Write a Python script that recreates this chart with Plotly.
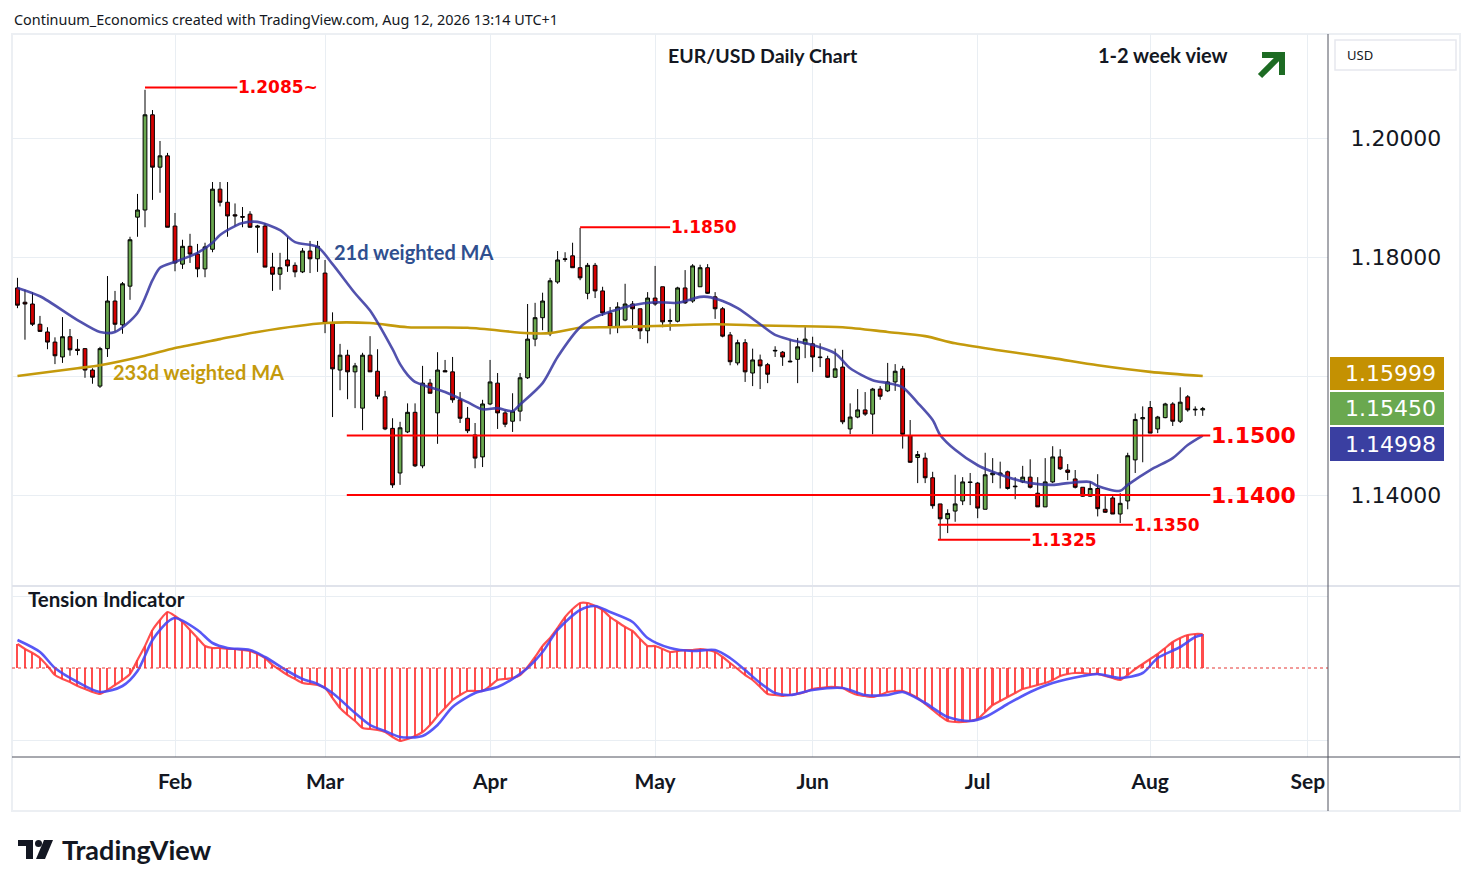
import pandas as pd
import plotly.graph_objects as go

# daily EUR/USD bars, Jan 2 - Aug 12 2026 (weekdays)
opens = [1.1748, 1.1724, 1.1721, 1.1687, 1.1674, 1.1657, 1.1632, 1.1666, 1.1645, 1.1646,
         1.1610, 1.1583, 1.1646, 1.1726, 1.1686, 1.1751, 1.1867, 1.1879, 1.2039, 1.1951,
         1.1970, 1.1852, 1.1788, 1.1818, 1.1805, 1.1780, 1.1813, 1.1914, 1.1892, 1.1871,
         1.1868, 1.1872, 1.1850, 1.1852, 1.1783, 1.1771, 1.1795, 1.1786, 1.1775, 1.1810,
         1.1797, 1.1773, 1.1689, 1.1610, 1.1635, 1.1607, 1.1546, 1.1635, 1.1608, 1.1565,
         1.1512, 1.1437, 1.1506, 1.1539, 1.1449, 1.1588, 1.1538, 1.1609, 1.1607, 1.1560,
         1.1529, 1.1501, 1.1464, 1.1553, 1.1588, 1.1538, 1.1524, 1.1541, 1.1597, 1.1662,
         1.1698, 1.1671, 1.1758, 1.1797, 1.1802, 1.1782, 1.1739, 1.1786, 1.1743, 1.1706,
         1.1682, 1.1694, 1.1721, 1.1713, 1.1676, 1.1731, 1.1750, 1.1692, 1.1692, 1.1748,
         1.1726, 1.1750, 1.1782, 1.1733, 1.1713, 1.1669, 1.1622, 1.1656, 1.1605, 1.1627,
         1.1619, 1.1642, 1.1640, 1.1625, 1.1628, 1.1654, 1.1654, 1.1632, 1.1629, 1.1598,
         1.1615, 1.1511, 1.1531, 1.1543, 1.1536, 1.1578, 1.1575, 1.1590, 1.1612, 1.1500,
         1.1463, 1.1462, 1.1429, 1.1385, 1.1360, 1.1373, 1.1390, 1.1422, 1.1420, 1.1376,
         1.1434, 1.1434, 1.1439, 1.1415, 1.1422, 1.1430, 1.1403, 1.1380, 1.1422, 1.1464,
         1.1442, 1.1427, 1.1413, 1.1398, 1.1411, 1.1376, 1.1395, 1.1368, 1.1390, 1.1459,
         1.1528, 1.1547, 1.1511, 1.1530, 1.1553, 1.1524, 1.1565, 1.1543, 1.1543]
highs = [1.1765, 1.1745, 1.1741, 1.1701, 1.1682, 1.1665, 1.1699, 1.1679, 1.1662, 1.1647,
         1.1613, 1.1649, 1.1768, 1.1743, 1.1758, 1.1834, 1.1906, 1.2081, 1.2047, 1.1995,
         1.1975, 1.1874, 1.1829, 1.1839, 1.1822, 1.1824, 1.1926, 1.1926, 1.1926, 1.1890,
         1.1884, 1.1877, 1.1854, 1.1857, 1.1807, 1.1807, 1.1834, 1.1791, 1.1815, 1.1827,
         1.1827, 1.1795, 1.1707, 1.1654, 1.1644, 1.1622, 1.1639, 1.1667, 1.1645, 1.1575,
         1.1529, 1.1523, 1.1554, 1.1554, 1.1617, 1.1595, 1.1640, 1.1627, 1.1632, 1.1573,
         1.1548, 1.1521, 1.1560, 1.1627, 1.1605, 1.1543, 1.1571, 1.1605, 1.1721, 1.1723,
         1.1740, 1.1765, 1.1810, 1.1808, 1.1824, 1.1849, 1.1790, 1.1790, 1.1750, 1.1716,
         1.1724, 1.1755, 1.1726, 1.1713, 1.1741, 1.1785, 1.1750, 1.1713, 1.1750, 1.1778,
         1.1788, 1.1787, 1.1788, 1.1741, 1.1716, 1.1674, 1.1661, 1.1662, 1.1646, 1.1636,
         1.1622, 1.1650, 1.1642, 1.1661, 1.1664, 1.1684, 1.1666, 1.1655, 1.1634, 1.1646,
         1.1644, 1.1554, 1.1578, 1.1573, 1.1580, 1.1583, 1.1622, 1.1620, 1.1617, 1.1526,
         1.1474, 1.1471, 1.1439, 1.1385, 1.1376, 1.1434, 1.1430, 1.1437, 1.1422, 1.1471,
         1.1462, 1.1456, 1.1441, 1.1430, 1.1449, 1.1460, 1.1430, 1.1462, 1.1482, 1.1477,
         1.1452, 1.1442, 1.1413, 1.1423, 1.1435, 1.1398, 1.1400, 1.1403, 1.1471, 1.1537,
         1.1549, 1.1558, 1.1533, 1.1555, 1.1556, 1.1581, 1.1568, 1.1549, 1.1548]
lows = [1.1714, 1.1661, 1.1684, 1.1674, 1.1645, 1.1620, 1.1622, 1.1634, 1.1635, 1.1597,
        1.1587, 1.1580, 1.1632, 1.1675, 1.1671, 1.1728, 1.1834, 1.1850, 1.1896, 1.1908,
        1.1850, 1.1776, 1.1780, 1.1790, 1.1766, 1.1766, 1.1808, 1.1885, 1.1834, 1.1852,
        1.1850, 1.1849, 1.1807, 1.1783, 1.1743, 1.1745, 1.1775, 1.1766, 1.1773, 1.1773,
        1.1775, 1.1672, 1.1531, 1.1576, 1.1561, 1.1546, 1.1509, 1.1607, 1.1561, 1.1509,
        1.1412, 1.1417, 1.1504, 1.1447, 1.1445, 1.1571, 1.1486, 1.1607, 1.1555, 1.1521,
        1.1504, 1.1445, 1.1447, 1.1551, 1.1511, 1.1514, 1.1506, 1.1524, 1.1595, 1.1650,
        1.1677, 1.1667, 1.1755, 1.1792, 1.1782, 1.1761, 1.1729, 1.1731, 1.1701, 1.1670,
        1.1672, 1.1692, 1.1679, 1.1662, 1.1655, 1.1718, 1.1682, 1.1676, 1.1690, 1.1721,
        1.1723, 1.1750, 1.1738, 1.1696, 1.1665, 1.1618, 1.1618, 1.1590, 1.1583, 1.1578,
        1.1588, 1.1632, 1.1617, 1.1623, 1.1588, 1.1630, 1.1607, 1.1615, 1.1597, 1.1597,
        1.1519, 1.1502, 1.1529, 1.1533, 1.1502, 1.1560, 1.1573, 1.1575, 1.1478, 1.1454,
        1.1420, 1.1420, 1.1377, 1.1326, 1.1336, 1.1355, 1.1383, 1.1383, 1.1361, 1.1376,
        1.1420, 1.1411, 1.1409, 1.1393, 1.1420, 1.1411, 1.1380, 1.1380, 1.1420, 1.1442,
        1.1425, 1.1411, 1.1397, 1.1397, 1.1364, 1.1370, 1.1368, 1.1353, 1.1376, 1.1437,
        1.1455, 1.1504, 1.1504, 1.1529, 1.1516, 1.1521, 1.1540, 1.1533, 1.1533]
closes = [1.1719, 1.1721, 1.1687, 1.1675, 1.1657, 1.1634, 1.1666, 1.1644, 1.1643, 1.1610,
          1.1598, 1.1646, 1.1726, 1.1687, 1.1755, 1.1829, 1.1879, 1.2039, 1.1951, 1.1970,
          1.1850, 1.1790, 1.1818, 1.1805, 1.1780, 1.1817, 1.1914, 1.1892, 1.1869, 1.1869,
          1.1867, 1.1850, 1.1852, 1.1783, 1.1771, 1.1782, 1.1785, 1.1775, 1.1810, 1.1797,
          1.1818, 1.1689, 1.1612, 1.1635, 1.1607, 1.1617, 1.1635, 1.1607, 1.1566, 1.1511,
          1.1417, 1.1513, 1.1539, 1.1449, 1.1588, 1.1571, 1.1610, 1.1607, 1.1560, 1.1529,
          1.1508, 1.1462, 1.1553, 1.1590, 1.1538, 1.1519, 1.1541, 1.1597, 1.1662, 1.1698,
          1.1726, 1.1760, 1.1795, 1.1796, 1.1782, 1.1765, 1.1786, 1.1743, 1.1706, 1.1682,
          1.1716, 1.1721, 1.1713, 1.1676, 1.1731, 1.1721, 1.1691, 1.1693, 1.1748, 1.1723,
          1.1785, 1.1782, 1.1739, 1.1713, 1.1667, 1.1624, 1.1656, 1.1607, 1.1627, 1.1617,
          1.1603, 1.1643, 1.1632, 1.1624, 1.1649, 1.1662, 1.1632, 1.1631, 1.1598, 1.1612,
          1.1523, 1.1531, 1.1543, 1.1536, 1.1578, 1.1566, 1.1590, 1.1608, 1.1502, 1.1455,
          1.1468, 1.1429, 1.1382, 1.1360, 1.1369, 1.1385, 1.1422, 1.1421, 1.1378, 1.1434,
          1.1437, 1.1437, 1.1411, 1.1414, 1.1430, 1.1413, 1.1380, 1.1422, 1.1464, 1.1444,
          1.1438, 1.1413, 1.1398, 1.1411, 1.1377, 1.1371, 1.1368, 1.1386, 1.1466, 1.1527,
          1.1530, 1.1504, 1.1531, 1.1553, 1.1524, 1.1556, 1.1543, 1.1544, 1.1545]

# moving averages, read at selected bars (bar number from Jan 2)
ma21_bar = [0, 3, 8, 11, 13, 16, 18, 19, 21, 24, 26, 27, 29, 30, 32, 35, 37, 40, 42, 45,
            47, 50, 51, 52, 53, 55, 57, 60, 62, 64, 66, 67, 70, 72, 75, 77, 79, 82, 85, 88,
            91, 92, 94, 96, 99, 101, 103, 106, 109, 111, 114, 116, 118, 120, 122, 123, 125,
            128, 130, 132, 135, 138, 140, 143, 144, 147, 148, 151, 154, 156, 158]
ma21_val = [1.1748, 1.1734, 1.1694, 1.1674, 1.1674, 1.1706, 1.1761, 1.1782, 1.1792, 1.1807,
            1.1824, 1.1837, 1.1852, 1.1857, 1.1859, 1.1845, 1.1825, 1.1817, 1.1788, 1.1739,
            1.1710, 1.1645, 1.1620, 1.1602, 1.1590, 1.1581, 1.1573, 1.1556, 1.1544, 1.1546,
            1.1541, 1.1552, 1.1588, 1.1632, 1.1682, 1.1699, 1.1708, 1.1719, 1.1724, 1.1723,
            1.1733, 1.1733, 1.1726, 1.1714, 1.1687, 1.1669, 1.1661, 1.1652, 1.1638, 1.1613,
            1.1593, 1.1588, 1.1581, 1.1555, 1.1526, 1.1501, 1.1476, 1.1450, 1.1439, 1.1430,
            1.1420, 1.1417, 1.1420, 1.1422, 1.1415, 1.1407, 1.1417, 1.1442, 1.1462, 1.1484,
            1.14998]
ma233_bar = [0, 8, 11, 17, 21, 27, 32, 41, 47, 52, 60, 68, 71, 75, 79, 85, 93, 99, 103,
             110, 116, 121, 125, 131, 138, 144, 151, 158]
ma233_val = [1.1600, 1.1613, 1.1618, 1.1634, 1.1647, 1.1662, 1.1674, 1.1689, 1.1689, 1.1682,
             1.1681, 1.1672, 1.1672, 1.1681, 1.1682, 1.1684, 1.1687, 1.1685, 1.1684, 1.1682,
             1.1674, 1.1667, 1.1655, 1.1643, 1.1630, 1.1618, 1.1607, 1.15999]

# tension indicator: fast line (one value per bar) and slow line
tension_fast = [24, 19, 15, 10, 2, -7, -11, -14, -18, -21,
                -24, -26, -22, -17, -12, -6, 8, 22, 38, 48,
                56, 52, 46, 38, 30, 22, 20, 20, 19, 19,
                18, 17, 14, 10, 3, -2, -7, -11, -15, -16,
                -17, -20, -30, -40, -47, -53, -60, -61, -62, -64,
                -69, -73, -71, -68, -64, -57, -48, -40, -32, -27,
                -23, -23, -23, -18, -12, -11, -10, -7, 1, 11,
                22, 30, 40, 51, 59, 65, 65, 62, 58, 51,
                46, 41, 37, 29, 22, 22, 19, 16, 17, 18,
                18, 19, 18, 16, 11, 5, -1, -7, -12, -19,
                -26, -27, -28, -27, -26, -24, -21, -20, -19, -19,
                -20, -24, -27, -28, -29, -27, -24, -23, -23, -26,
                -30, -36, -42, -48, -53, -54, -54, -53, -51, -44,
                -37, -33, -29, -25, -21, -19, -17, -15, -12, -8,
                -6, -5, -5, -6, -6, -8, -10, -12, -7, -1,
                4, 9, 14, 20, 26, 30, 33, 34, 34]
tension_slow_bar = [0, 3, 5, 8, 11, 14, 16, 18, 20, 21, 24, 26, 28, 31, 33, 36, 38, 40, 42,
                    45, 47, 49, 51, 54, 56, 58, 61, 64, 66, 68, 70, 72, 75, 77, 79, 82, 84,
                    87, 90, 93, 95, 97, 99, 101, 103, 106, 110, 113, 116, 118, 121, 124,
                    127, 129, 132, 135, 138, 142, 144, 147, 150, 152, 155, 157, 158]
tension_slow = [28, 16, 0, -14, -24, -18, -3, 28, 46, 50, 38, 25, 20, 18, 11, -3, -11, -16,
                -25, -45, -57, -63, -69, -68, -57, -39, -25, -19, -11, 0, 16, 38, 58, 62,
                56, 46, 30, 20, 17, 18, 10, -2, -15, -25, -27, -22, -20, -27, -27, -24,
                -35, -49, -53, -49, -36, -24, -15, -8, -6, -10, -5, 10, 21, 31, 33]

level_vals = [1.2085, 1.1850, 1.1500, 1.1400, 1.1350, 1.1325]
level_text = ["1.2085~", "1.1850", "1.1500", "1.1400", "1.1350", "1.1325"]
level_from = [17, 75, 43.9, 43.9, 122.7, 122.7]
level_to = [29.3, 87, 159, 159, 148.7, 135]
level_size = [17, 17, 22, 22, 17, 17]

month_names = ["Feb", "Mar", "Apr", "May", "Jun", "Jul", "Aug", "Sep"]

n = len(closes)
bars = list(range(n))
days = pd.bdate_range("2026-01-02", "2026-09-30")
month_idx = [int(days.get_indexer([days[days.month == m][0]])[0]) for m in range(2, 10)]

# page is offset by the browser's 8px body margin
OFF = 8
W, H = 1474 - 2 * OFF, 887 - 2 * OFF
L, R, T, B = 12, 1328, 34, 757   # plot area in screenshot pixels


def px(X):
    return (X - L) / (R - L)


def py(Y):
    return (B - Y) / (B - T)


split = py(586)
grid = "#e9eef3"
ink = "#131722"

fig = go.Figure()

fig.add_trace(go.Candlestick(
    x=bars, open=opens, high=highs, low=lows, close=closes,
    increasing=dict(fillcolor="#6aa84f", line=dict(color="#000000", width=1)),
    decreasing=dict(fillcolor="#d50000", line=dict(color="#000000", width=1)),
    whiskerwidth=0, hoverinfo="skip", xaxis="x", yaxis="y"))

fig.add_trace(go.Scatter(
    x=ma233_bar, y=ma233_val, mode="lines",
    line=dict(color="#c49a0c", width=2.6, shape="spline", smoothing=0.8),
    hoverinfo="skip", xaxis="x", yaxis="y"))
fig.add_trace(go.Scatter(
    x=ma21_bar, y=ma21_val, mode="lines",
    line=dict(color="rgba(52,52,160,0.85)", width=2.6, shape="spline", smoothing=0.8),
    hoverinfo="skip", xaxis="x", yaxis="y"))

# tension indicator panel
fig.add_trace(go.Bar(
    x=bars, y=tension_fast, width=0.22, marker=dict(color="#ff4d4d", line=dict(width=0)),
    hoverinfo="skip", xaxis="x2", yaxis="y2"))
fig.add_trace(go.Scatter(
    x=bars, y=tension_fast, mode="lines",
    line=dict(color="rgba(255,60,60,0.9)", width=2.2, shape="spline", smoothing=0.6),
    hoverinfo="skip", xaxis="x2", yaxis="y2"))
fig.add_trace(go.Scatter(
    x=tension_slow_bar, y=tension_slow, mode="lines",
    line=dict(color="rgba(70,70,245,0.9)", width=2.6, shape="spline", smoothing=0.8),
    hoverinfo="skip", xaxis="x2", yaxis="y2"))

shapes = []
annotations = []

# level lines and labels
for v, t, a, b, s in zip(level_vals, level_text, level_from, level_to, level_size):
    shapes.append(dict(type="line", xref="x", yref="y", x0=a, x1=b, y0=v, y1=v,
                       line=dict(color="#ff0000", width=2)))
    annotations.append(dict(xref="x", yref="y", x=b, y=v, text=t, showarrow=False,
                            xanchor="left", yanchor="middle", xshift=-1,
                            font=dict(family="DejaVu Sans", size=s, color="#ff0000",
                                      weight="bold")))

# zero line of the indicator
shapes.append(dict(type="line", xref="paper", yref="y2", x0=0, x1=1, y0=0, y1=0,
                   line=dict(color="#e53935", width=1.2, dash="dot")))

# frame and separators
shapes += [
    dict(type="rect", xref="paper", yref="paper", x0=px(12), x1=px(1460), y0=py(811), y1=py(34),
         line=dict(color="#eceff3", width=2), layer="below"),
    dict(type="line", xref="paper", yref="paper", x0=px(12), x1=px(1460), y0=split, y1=split,
         line=dict(color="#e0e3eb", width=2)),
    dict(type="line", xref="paper", yref="paper", x0=px(1328), x1=px(1328), y0=py(811), y1=py(34),
         line=dict(color="#50535e", width=1)),
    dict(type="line", xref="paper", yref="paper", x0=px(12), x1=px(1460), y0=py(757), y1=py(757),
         line=dict(color="#50535e", width=1)),
]

# last-value boxes on the price scale
boxes = [("1.15999", "#c49102", 357, 390), ("1.15450", "#6aa84f", 392, 425),
         ("1.14998", "#3a3fa1", 427, 461)]
for t, c, y0, y1 in boxes:
    shapes.append(dict(type="rect", xref="paper", yref="paper", x0=px(1330), x1=px(1444),
                       y0=py(y1), y1=py(y0), fillcolor=c, line=dict(width=0)))
    annotations.append(dict(xref="paper", yref="paper", x=px(1390), y=py((y0 + y1) / 2), text=t,
                            showarrow=False, xanchor="center", yanchor="middle",
                            font=dict(family="DejaVu Sans", size=22, color="#ffffff")))

# USD box
shapes.append(dict(type="rect", xref="paper", yref="paper", x0=px(1335), x1=px(1456),
                   y0=py(70), y1=py(40), line=dict(color="#e6e8ee", width=1.5), fillcolor="#ffffff"))
annotations.append(dict(xref="paper", yref="paper", x=px(1345), y=py(55), text="USD",
                        showarrow=False, xanchor="left", yanchor="middle",
                        font=dict(family="Noto Sans", size=13, color=ink)))

# outlook arrow (shaft plus open head)
green = "#1d6b23"
shapes += [
    dict(type="path", xref="paper", yref="paper",
         path=f"M {px(1260)},{py(76)} L {px(1280)},{py(56)}",
         line=dict(color=green, width=6)),
    dict(type="path", xref="paper", yref="paper",
         path=f"M {px(1262)},{py(55)} L {px(1282)},{py(55)} L {px(1282)},{py(75)}",
         line=dict(color=green, width=6)),
]

# TradingView logo
shapes += [
    dict(type="rect", xref="paper", yref="paper", x0=px(18), x1=px(33), y0=py(846), y1=py(840),
         fillcolor=ink, line=dict(width=0)),
    dict(type="rect", xref="paper", yref="paper", x0=px(26), x1=px(33), y0=py(859), y1=py(840),
         fillcolor=ink, line=dict(width=0)),
    dict(type="circle", xref="paper", yref="paper", x0=px(35), x1=px(42), y0=py(847), y1=py(840),
         fillcolor=ink, line=dict(width=0)),
    dict(type="path", xref="paper", yref="paper",
         path=f"M {px(44)},{py(840)} L {px(53)},{py(840)} L {px(45)},{py(859)} L {px(36)},{py(859)} Z",
         fillcolor=ink, line=dict(width=0)),
]

texts = [
    ("Continuum_Economics created with TradingView.com, Aug 12, 2026 13:14 UTC+1", 12, 19, "left",
     dict(family="Noto Sans", size=14.4, color=ink)),
    ("EUR/USD Daily Chart", 763, 55, "center", dict(family="Lato", size=19.5, color=ink, weight="bold")),
    ("1-2 week view", 1163, 55, "center", dict(family="Lato", size=20, color=ink, weight="bold")),
    ("21d weighted MA", 332, 252, "left", dict(family="Lato", size=20, color="#2f4f8f", weight="bold")),
    ("233d weighted MA", 111, 372, "left", dict(family="Lato", size=20, color="#c49a0c", weight="bold")),
    ("Tension Indicator", 26, 599, "left", dict(family="Lato", size=20.5, color=ink, weight="bold")),
    ("TradingView", 60, 849, "left", dict(family="Lato", size=27, color=ink, weight="bold")),
]
for t, X, Y, anc, f in texts:
    annotations.append(dict(xref="paper", yref="paper", x=px(X), y=py(Y), text=t, showarrow=False,
                            xanchor=anc, yanchor="middle", font=f))

xcommon = dict(range=[-0.73, 174.7], tickvals=month_idx, ticktext=month_names, showgrid=True,
               gridcolor=grid, gridwidth=1, zeroline=False, showline=False, fixedrange=True)

fig.update_layout(
    width=W, height=H,
    margin=dict(l=L - OFF, r=W - (R - OFF), t=T - OFF, b=H - (B - OFF)),
    paper_bgcolor="#ffffff", plot_bgcolor="#ffffff",
    showlegend=False, bargap=0, boxgap=0.28,
    xaxis=dict(**xcommon, anchor="y", showticklabels=False, rangeslider=dict(visible=False)),
    xaxis2=dict(**xcommon, anchor="y2", showticklabels=True, ticks="outside", ticklen=6,
                tickcolor="rgba(0,0,0,0)",
                tickfont=dict(family="Lato", size=21, color=ink, weight="bold")),
    yaxis=dict(domain=[split, 1], range=[1.124706, 1.217479], side="right",
               tickvals=[1.14, 1.16, 1.18, 1.20], ticktext=["1.14000", "", "1.18000", "1.20000"],
               showgrid=True, gridcolor=grid, zeroline=False, ticks="outside", ticklen=17,
               tickcolor="rgba(0,0,0,0)", fixedrange=True,
               tickfont=dict(family="DejaVu Sans", size=22, color=ink)),
    yaxis2=dict(domain=[0, split], range=[-89, 82], tickvals=[-72, 72], showticklabels=False,
                showgrid=True, gridcolor=grid, zeroline=False, fixedrange=True),
    shapes=shapes,
    annotations=annotations,
)

fig.write_html("out.html", config={"displayModeBar": False})
